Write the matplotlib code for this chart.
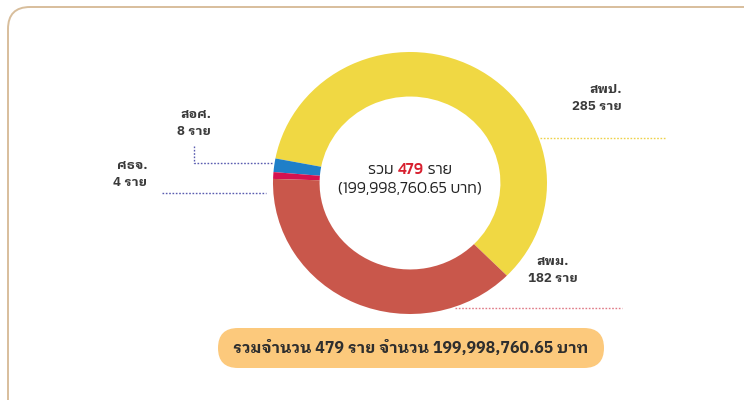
import matplotlib
matplotlib.use('Agg')
import matplotlib.pyplot as plt
from matplotlib.patches import FancyBboxPatch

# ข้อมูล
categories = ['สพป.', 'สอศ.', 'ศธจ.', 'สพม.']
values = [285, 8, 4, 182]
colors = ['#F0D843', '#1F7FC8', '#D5124F', '#C9574B']
total_people = 479
total_baht = '199,998,760.65'

label_font = ['IBM Plex Sans Thai Looped', 'DejaVu Sans']
center_font = ['Kanit', 'DejaVu Sans']

fig = plt.figure(figsize=(7.44, 4.0), dpi=100)
fig.patch.set_facecolor('white')

# พื้นหลังแบบพิกเซล
bg = fig.add_axes([0, 0, 1, 1])
bg.set_xlim(0, 744)
bg.set_ylim(400, 0)
bg.axis('off')

frame = FancyBboxPatch((8, 7), 760, 420, boxstyle='round,pad=0,rounding_size=22',
                       fc='white', ec='#D8BE9C', lw=1.4)
bg.add_patch(frame)

# โดนัท
cx, cy, rx, ry = 410, 183, 137, 131
ax = fig.add_axes([(cx - rx) / 744, (400 - cy - ry) / 400, 2 * rx / 744, 2 * ry / 400])
ax.pie(values, colors=colors, startangle=-45, counterclock=True,
       wedgeprops=dict(width=0.34, edgecolor='none'))
ax.set_aspect('auto')
ax.set_xlim(-1, 1)
ax.set_ylim(-1, 1)
ax.axis('off')

# ข้อความกลาง (จัดกึ่งกลางทั้งบรรทัด)
ckw = dict(va='center', fontsize=11.5, family=center_font)
parts = [('รวม ', '#222222', 300), (str(total_people), '#D8202F', 500), (' ราย', '#222222', 300)]
texts = [bg.text(0, 170, s, ha='left', color=c, weight=w, **ckw) for s, c, w in parts]
fig.canvas.draw()
r = fig.canvas.get_renderer()
widths = [t.get_window_extent(r).width for t in texts]
x = cx - sum(widths) / 2
for t, w in zip(texts, widths):
    t.set_x(x)
    x += w
bg.text(cx, 189, f'({total_baht} บาท)', ha='center', color='#222222', weight=300, **ckw)

# ป้ายกำกับ
lab_kw = dict(fontsize=9.5, family=label_font, weight='bold', color='#3A3A3A',
              linespacing=1.35)
bg.text(622, 98, f'{categories[0]}\n{values[0]} ราย', ha='right', va='center',
        multialignment='right', **lab_kw)
bg.text(553, 270, f'{categories[3]}\n{values[3]} ราย', ha='center', va='center',
        multialignment='center', **lab_kw)
bg.text(211, 123, f'{categories[1]}\n{values[1]} ราย', ha='right', va='center',
        multialignment='right', **lab_kw)
bg.text(147, 174, f'{categories[2]}\n{values[2]} ราย', ha='right', va='center',
        multialignment='right', **lab_kw)

# เส้นนำ
dot = dict(lw=1.0, linestyle=(0, (1.2, 1.2)))
bg.plot([540, 666], [138, 138], color='#EDD24A', **dot)
bg.plot([455, 622], [308, 308], color='#E07A86', **dot)
bg.plot([194, 194, 272], [146, 163, 163], color='#5A5CB0', **dot)
bg.plot([162, 266], [193, 193], color='#5A5CB0', **dot)

# แถบสรุป
badge = FancyBboxPatch((218, 328), 386, 40, boxstyle='round,pad=0,rounding_size=20',
                       fc='#FCC97C', ec='none')
bg.add_patch(badge)
bg.text(411, 348, f'รวมจำนวน {total_people} ราย จำนวน {total_baht} บาท',
        ha='center', va='center', fontsize=11.5, family=label_font,
        weight='bold', color='#2E2E2E')

fig.savefig('out.png', dpi=100)
